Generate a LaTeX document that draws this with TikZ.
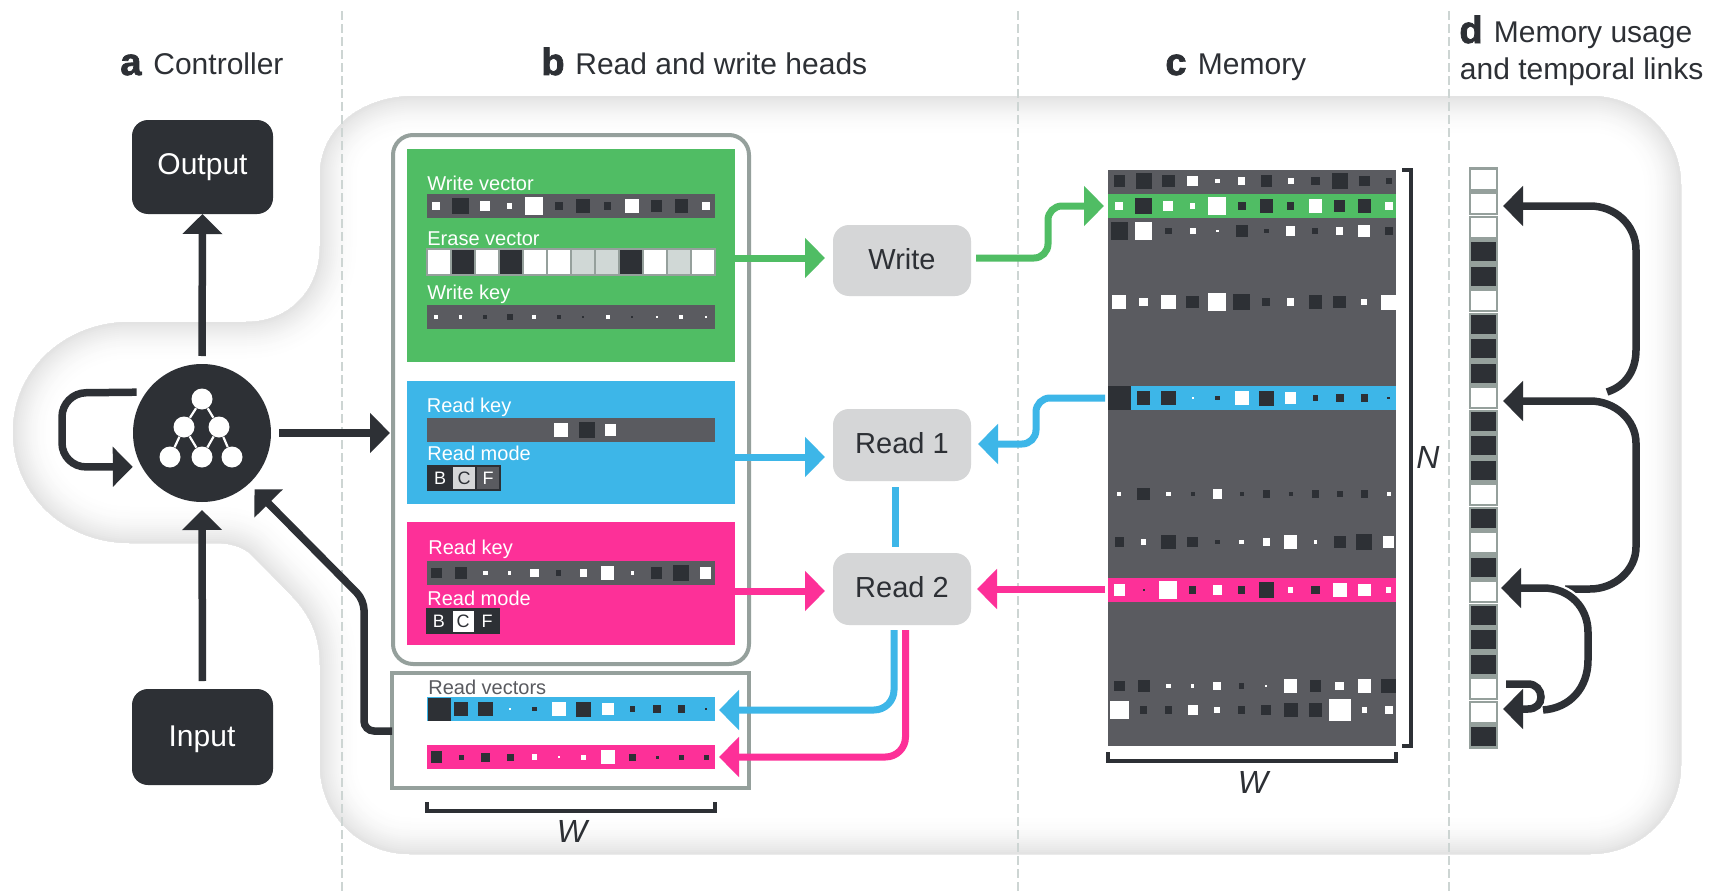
\documentclass[tikz,border=0pt]{standalone}
\usepackage{fontspec}
\setmainfont{Liberation Sans}
\newfontfamily\blk[BoldFeatures={FakeBold=2}]{Liberation Sans}
\usetikzlibrary{arrows.meta,calc}
\definecolor{cd}{HTML}{2D3035}
\definecolor{cw}{HTML}{FFFFFF}
\definecolor{cg}{HTML}{D0D8D6}
\definecolor{bar}{HTML}{5A5B60}
\definecolor{edge}{HTML}{95A09C}
\definecolor{dashc}{HTML}{CDD5D3}
\definecolor{grn}{HTML}{50BD64}
\definecolor{blu}{HTML}{3DB6E8}
\definecolor{pnk}{HTML}{FD3098}
\definecolor{hd}{HTML}{D5D6D7}
\newcommand\fsz[1]{\fontsize{#1}{#1}\selectfont}
\newcommand\panel[6]{\node[#2,rectangle,inner sep=0pt,outer sep=0pt,minimum width={(#5-#3)*0.5},minimum height={(#6-#4)*0.5}] (#1) at ({(#3+#5)/2},{(#4+#6)/2}) {};}
\newcommand\cellrow[4]{\foreach \cc/\ss [count=\i from 0] in {#4}{%
  \pgfmathsetmacro\hs{\ss/6}\pgfmathsetmacro\cx{#1+\i*#2}%
  \fill[fill=c\cc] ({\cx-\hs},{#3-\hs}) rectangle ({\cx+\hs},{#3+\hs});}}
\tikzset{
  big/.style={font=\fsz{14.5},inner sep=0pt},
  lab/.style={font=\fsz{10},text=white,inner sep=0pt,anchor=base west},
  mode/.style={font=\fsz{9},inner sep=0pt},
  head/.style={font=\fsz{15},text=cd,inner sep=0pt,anchor=base west},
  let/.style={font=\blk\bfseries\fsz{19},text=cd,inner sep=0pt,anchor=base west},
  dim/.style={font=\itshape\fsz{16},text=cd,inner sep=0pt},
  ctrlbox/.style={fill=cd,rounded corners=8pt,text=white},
  hbox/.style={fill=hd,rounded corners=8pt,text=cd},
  arr/.style={draw=cd,line width=3.75pt,-{Triangle[length=10pt,width=19.5pt]}},
  arrg/.style={draw=grn,line width=3.5pt,-{Triangle[length=10pt,width=19.5pt]}},
  arrb/.style={draw=blu,line width=3.5pt,-{Triangle[length=10pt,width=19.5pt]}},
  arrp/.style={draw=pnk,line width=3.5pt,-{Triangle[length=10pt,width=19.5pt]}},
  brk/.style={draw=cd,line width=1.6pt},
  sepline/.style={draw=dashc,line width=1.25pt,dash pattern=on 4.5pt off 2pt},
  tn/.style={circle,fill=white,inner sep=0pt,minimum size=10.5pt},
  te/.style={draw=white,line width=1.1pt},
}
\def\bgpath{(415,96) -- (1590,96) .. controls (1640,96) and (1681,135) .. (1681,185) -- (1681,765) .. controls (1681,815) and (1640,854) .. (1590,854) -- (410,854) .. controls (360,854) and (320,815) .. (320,765) -- (320,665) .. controls (320,630) and (305,610) .. (293,597) -- (250,553) .. controls (240,546) and (230,543) .. (215,543) -- (130,543) .. controls (65,543) and (13,495) .. (13,432) .. controls (13,370) and (65,322) .. (130,322) -- (246,322) .. controls (290,322) and (320,290) .. (320,246) -- (320,175) .. controls (320,130) and (360,96) .. (415,96) -- cycle}
\begin{document}
\begin{tikzpicture}[x=0.5pt,y=-0.5pt]
\useasboundingbox (0,0) rectangle (1715,894);
\fill[white] (0,0) rectangle (1715,894);
% background glow
\begin{scope}
\clip \bgpath;
\fill[white] \bgpath;
\foreach \w in {80,76,...,4}{
  \pgfmathsetmacro\v{12*(1-\w/84)*(1-\w/84)}
  \draw[draw=black!\v!white,line width=\w*0.5pt] \bgpath;
}
\end{scope}
% separators
\coordinate (s1t) at (342,11); \coordinate (s1b) at (342,894);
\coordinate (s2t) at (1018,11); \coordinate (s2b) at (1018,894);
\coordinate (s3t) at (1449,11); \coordinate (s3b) at (1449,894);
\draw[sepline] (s1t) -- (s1b);
\draw[sepline] (s2t) -- (s2b);
\draw[sepline] (s3t) -- (s3b);
% headings
\node[let] (ha) at (120,75) {a};
\node[head] (hat) at (153,75) {Controller};
\node[let] (hb) at (541,75) {b};
\node[head] (hbt) at (575,75) {Read and write heads};
\node[let] (hc) at (1165,75) {c};
\node[head] (hct) at (1197.5,75) {Memory};
\node[let] (hd1) at (1459,43) {d};
\node[head] (hdt) at (1493.5,42) {Memory usage};
\node[head] (hdu) at (1459.5,79) {and temporal links};
% controller column
\panel{output}{ctrlbox,font=\fsz{15}}{132}{120}{273}{214}
\node[big,text=white,font=\fsz{15}] (outt) at (output) {Output};
\panel{input}{ctrlbox}{132}{689}{273}{785}
\node[big,text=white,font=\fsz{15}] (inpt) at (202,739) {Input};
\node[circle,fill=cd,inner sep=0pt,minimum size=69pt,outer sep=4pt] (ctrl) at (202,433) {};
\node[tn] (t1) at (202,399) {};
\node[tn] (t2) at (184,427) {};
\node[tn] (t3) at (219,427) {};
\node[tn] (t4) at (170,457) {};
\node[tn] (t5) at (202,457) {};
\node[tn] (t6) at (232,457) {};
\draw[te] (t1) -- (t2);
\draw[te] (t1) -- (t3);
\draw[te] (t2) -- (t4);
\draw[te] (t2) -- (t5);
\draw[te] (t3) -- (t5);
\draw[te] (t3) -- (t6);
% head boxes
\panel{headsbox}{draw=edge,line width=2pt,fill=white,rounded corners=10pt}{393}{135}{749}{664}
\panel{readbox}{draw=edge,line width=2pt,fill=white}{392}{673}{749}{788}
\panel{green}{fill=grn}{407}{149}{735}{362}
\panel{blue}{fill=blu}{407}{381}{735}{504}
\panel{pink}{fill=pnk}{407}{522}{735}{645}
% write panel
\node[lab] (l1) at (427,190) {Write vector};
\panel{wv}{fill=bar}{427}{194}{715}{218}
\cellrow{436.3}{24.5}{206}{w/25,d/50,w/30,w/16,w/55,d/24,d/42,d/22,w/42,d/34,d/40,w/25}
\node[lab] (l2) at (427,245) {Erase vector};
\foreach \cc [count=\i from 0] in {w,d,w,d,w,w,g,g,d,w,g,w}{
  \filldraw[fill=c\cc,draw=edge,line width=0.8pt] ({427+24*\i},249) rectangle ({451+24*\i},275);
}
\node[lab] (l3) at (427,299) {Write key};
\panel{wk}{fill=bar}{427}{305}{715}{329}
\cellrow{436.3}{24.5}{317}{w/12,w/10,d/12,d/18,w/12,d/12,d/6,w/12,d/5,w/6,w/12,w/6}
% read 1 panel
\node[lab] (l4) at (426.5,412) {Read key};
\panel{rk1}{fill=bar}{427}{418}{715}{442}
\fill[white] (554,423) rectangle (568,437);
\fill[cd] (579,422) rectangle (595,438);
\fill[white] (605,424) rectangle (616,436);
\node[lab] (l5) at (427,460) {Read mode};
\panel{rm1}{fill=cd}{427}{465}{501}{491}
\panel{rm1c}{fill=hd}{453}{467}{475}{489}
\panel{rm1f}{fill=bar}{477}{467}{499}{489}
\node[mode,text=white] (b1) at (440,478.5) {B};
\node[mode,text=cd] (c1) at (464,478.5) {C};
\node[mode,text=white] (f1) at (488,478.5) {F};
% read 2 panel
\node[lab] (l6) at (428,554) {Read key};
\panel{rk2}{fill=bar}{427}{561}{715}{585}
\cellrow{436.3}{24.5}{573}{d/32,d/36,w/14,w/10,w/26,d/16,w/22,w/40,w/10,d/34,d/48,w/34}
\node[lab] (l7) at (427,605) {Read mode};
\panel{rm2}{fill=cd}{426}{608}{500}{634}
\panel{rm2c}{fill=white}{452.5}{611}{474}{632}
\node[mode,text=white] (b2) at (439,621.5) {B};
\node[mode,text=cd] (c2) at (463,621.5) {C};
\node[mode,text=white] (f2) at (487,621.5) {F};
% read vectors
\node[lab,text=bar] (l8) at (428,694) {Read vectors};
\panel{rv1}{fill=blu}{427}{697}{715}{721}
\cellrow{436.5}{24.5}{709}{d/44,d/40,d/44,w/4,d/14,w/41,d/45,w/34,d/16,d/25,d/22,d/8}
\fill[cd] (427.5,697.5) rectangle (451,721);
\panel{rv2}{fill=pnk}{427}{745}{715}{769}
\cellrow{436.5}{24.5}{757}{d/34,d/15,d/27,d/21,w/16,w/6,w/15,w/42,d/21,d/9,d/15,d/15}
% W bracket for read vectors
\coordinate (wa1) at (427,802); \coordinate (wa2) at (715,802);
\draw[brk] (wa1) -- (427,811) -- (715,811) -- (wa2);
\node[dim] (w1) at (572,831) {W};
% Write / Read nodes
\panel{write}{hbox}{833}{225}{971}{296}
\node[big,text=cd] (wt) at (902,259) {Write};
\panel{read1}{hbox}{833}{409}{971}{481}
\node[big,text=cd] (r1t) at (902,443.5) {Read 1};
\panel{read2}{hbox}{833}{553}{971}{625}
\node[big,text=cd] (r2t) at (902,587) {Read 2};
% memory
\panel{memory}{fill=bar}{1108}{170}{1396}{746}
\panel{mg}{fill=grn}{1108}{194}{1396}{218}
\panel{mb}{fill=blu}{1108}{386}{1396}{410}
\panel{mp}{fill=pnk}{1108}{578}{1396}{602}
\cellrow{1119.3}{24.5}{181}{d/34,d/48,d/38,w/32,w/14,w/22,d/34,w/18,d/26,d/48,d/32,d/18}
\cellrow{1119.3}{24.5}{206}{w/25,d/50,w/30,w/16,w/55,d/24,d/40,d/22,w/40,d/34,d/40,w/25}
\cellrow{1119.3}{24.5}{231}{d/52,w/52,d/20,w/18,w/8,d/36,d/14,w/28,d/18,w/22,w/36,d/24}
\cellrow{1119.3}{24.5}{302}{w/42,w/26,w/44,d/38,w/55,d/50,d/24,w/22,d/40,d/38,w/18,w/45}
\cellrow{1119.3}{24.5}{398}{d/70,d/40,d/44,w/5,d/14,w/41,d/45,w/34,d/16,d/25,d/22,d/8}
\cellrow{1119.3}{24.5}{494}{w/12,d/38,w/14,d/12,w/28,d/12,d/22,d/12,d/22,d/18,d/22,w/12}
\cellrow{1119.3}{24.5}{542}{d/28,w/16,d/44,d/32,d/14,w/14,w/22,w/40,w/10,d/36,d/48,w/34}
\cellrow{1119.3}{24.5}{590}{w/34,d/5,w/55,d/22,w/28,d/22,d/46,w/16,d/26,w/42,w/38,w/16}
\cellrow{1119.3}{24.5}{686}{d/32,d/36,w/14,w/10,w/24,d/16,w/6,w/40,d/34,w/26,w/40,d/44}
\cellrow{1119.3}{24.5}{710}{w/56,d/22,d/22,w/30,w/18,d/22,d/30,d/42,d/40,w/66,w/16,w/24}
\coordinate (na1) at (1402,170); \coordinate (na2) at (1402,746);
\draw[brk] (na1) -- (1411,170) -- (1411,746) -- (na2);
\node[dim] (nl) at (1428,457) {N};
\coordinate (wb1) at (1108,752); \coordinate (wb2) at (1396,752);
\draw[brk] (wb1) -- (1108,761) -- (1396,761) -- (wb2);
\node[dim] (w2) at (1253,782) {W};
% usage column
\foreach \cc [count=\i from 0] in {w,w,w,d,d,w,d,d,d,w,d,d,d,w,d,w,d,w,d,d,d,w,w,d}{
  \pgfmathsetmacro\uy{179.1+24.25*\i}
  \node[rectangle,draw=edge,fill=c\cc,line width=1.3pt,inner sep=0pt,outer sep=0pt,minimum width=13.5pt,minimum height=10.8pt] (u\i) at (1483.5,\uy) {};
}
% connectors: controller
\draw[arr] (ctrl.north) -- (output.south);
\draw[arr,shorten <=4pt] (input.north) -- (ctrl.south);
\draw[arr] (ctrl.east) -- ($(headsbox.west |- ctrl.east)+(-3,0)$);
\draw[arr,rounded corners=12pt] (ctrl.148.7) -- (62,393) -- (62,467) -- (ctrl.206.2);
\coordinate (ry) at (0,731);
\draw[arr,rounded corners=5pt] (readbox.west |- ry) -- (364,731) -- (364,600) -- (ctrl.-47);
% connectors: panels to heads
\coordinate (yg) at (0,258); \coordinate (yb) at (0,457); \coordinate (yp) at (0,591);
\draw[arrg,shorten >=4pt] (green.east |- yg) -- (write.west |- yg);
\draw[arrb,shorten >=4pt] (blue.east |- yb) -- (read1.west |- yb);
\draw[arrp,shorten >=4pt] (pink.east |- yp) -- (read2.west |- yp);
% write to memory
\coordinate (gs) at (976,258); \coordinate (gt) at (1104,206);
\draw[arrg,rounded corners=7pt] (gs) -- (1048,258) -- (1048,206) -- (gt);
% memory to reads
\coordinate (bs) at (1105,398); \coordinate (bt) at (978,444);
\draw[arrb,rounded corners=7pt] (bs) -- (1036,398) -- (1036,444) -- (bt);
\coordinate (ps) at (1105,589); \coordinate (pt) at (977,589);
\draw[arrp] (ps) -- (pt);
% read link
\coordinate (lk) at (895,0);
\draw[draw=blu,line width=3.5pt,shorten <=3pt,shorten >=3pt] (read1.south -| lk) -- (read2.north -| lk);
% reads to vectors
\coordinate (rbs) at (894,630); \coordinate (rbt) at (719,710);
\draw[arrb,rounded corners=10pt] (rbs) -- (894,710) -- (rbt);
\coordinate (rps) at (905.5,630); \coordinate (rpt) at (719,757);
\draw[arrp,rounded corners=10pt] (rps) -- (905.5,757) -- (rpt);
% usage links
\coordinate (ua) at (1607,392); \coordinate (ut1) at (1503,206);
\coordinate (ub) at (1565,589); \coordinate (ut2) at (1503,401);
\coordinate (uc) at (1543,710); \coordinate (ut3) at (1501,588);
\coordinate (ud) at (1506,684); \coordinate (ut4) at (1503,709);
\draw[arr] (ua) .. controls (1626,386) and (1636,370) .. (1636,350) -- (1636,250) .. controls (1636,225) and (1615,206) .. (1590,206) -- (ut1);
\draw[white,line width=6pt] (1636,443) .. controls (1636,420) and (1615,401) .. (1590,401) -- (1570,401);
\draw[arr] (ub) -- (1590,589) .. controls (1615,589) and (1636,570) .. (1636,547) -- (1636,443) .. controls (1636,420) and (1615,401) .. (1590,401) -- (ut2);
\draw[white,line width=6pt] (1588,632) .. controls (1588,608) and (1570,588) .. (1543,588);
\draw[arr] (uc) .. controls (1570,708) and (1588,688) .. (1588,660) -- (1588,632) .. controls (1588,608) and (1570,588) .. (1543,588) -- (ut3);
\draw[arr] (ud) -- (1528,684) .. controls (1536,684) and (1541,690) .. (1541,697) .. controls (1541,704) and (1536,709) .. (1528,709) -- (ut4);
\end{tikzpicture}
\end{document}
